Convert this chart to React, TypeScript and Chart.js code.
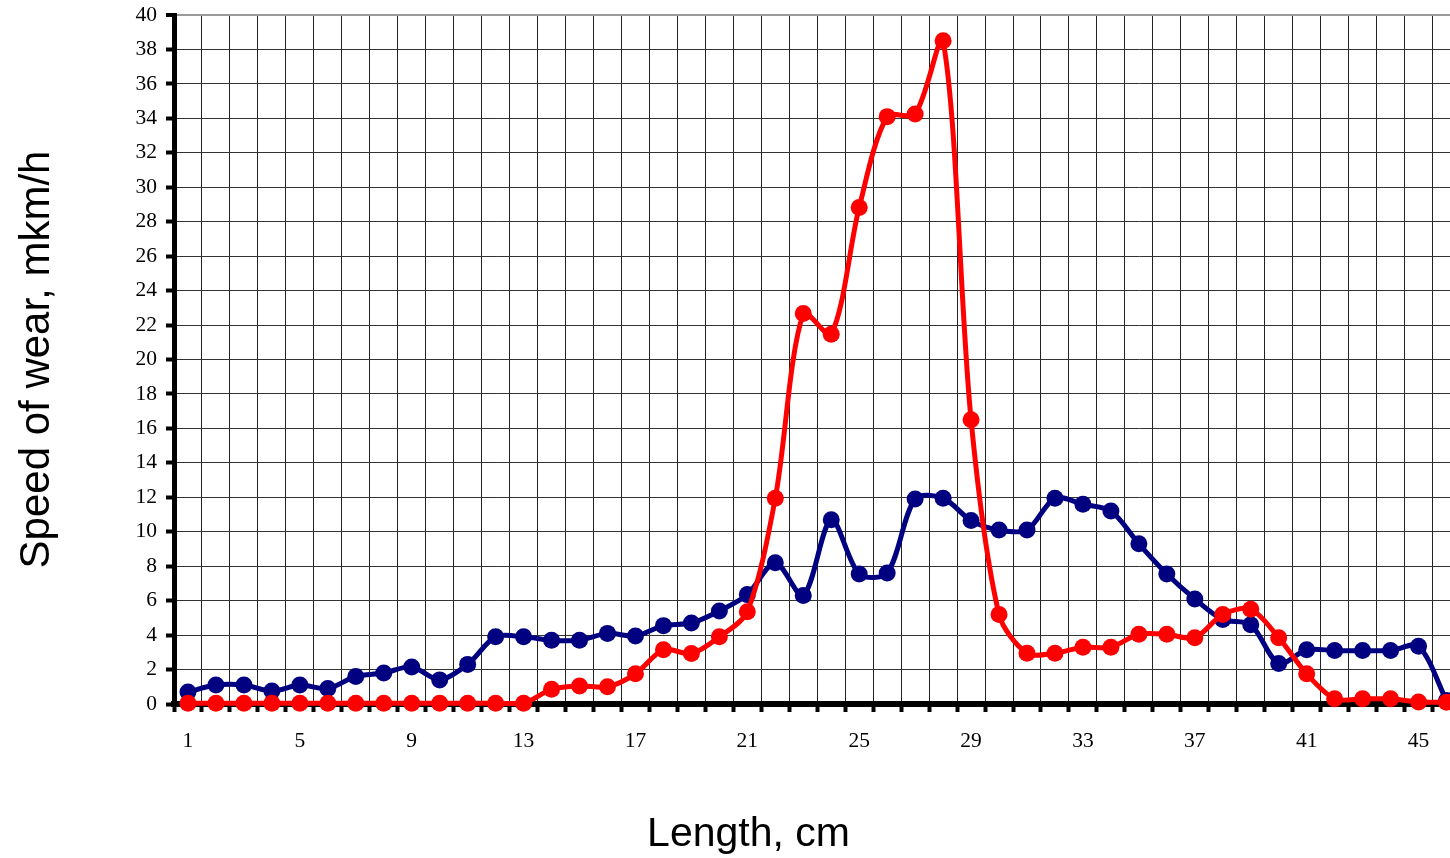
import React, { useEffect, useRef } from "react";
import { Chart, registerables } from "chart.js";

Chart.register(...registerables);

const categories = [
  "1", "2", "3", "4", "5", "6", "7", "8", "9", "10",
  "11", "12", "13", "14", "15", "16", "17", "18", "19", "20",
  "21", "22", "23", "24", "25", "26", "27", "28", "29", "30",
  "31", "32", "33", "34", "35", "36", "37", "38", "39", "40",
  "41", "42", "43", "44", "45", "46",
];

const shownXLabels = ["1", "5", "9", "13", "17", "21", "25", "29", "33", "37", "41", "45"];

const blueSeries = [
  0.7, 1.1, 1.1, 0.75, 1.1, 0.9, 1.6, 1.8, 2.15, 1.4,
  2.3, 3.9, 3.9, 3.7, 3.7, 4.1, 3.95, 4.55, 4.7, 5.4,
  6.35, 8.2, 6.3, 10.7, 7.55, 7.6, 11.9, 11.95, 10.65, 10.1,
  10.1, 11.95, 11.6, 11.2, 9.3, 7.55, 6.1, 4.9, 4.6, 2.35,
  3.15, 3.1, 3.1, 3.1, 3.35, 0.2,
];

const redSeries = [
  0.04, 0.04, 0.04, 0.04, 0.04, 0.04, 0.04, 0.04, 0.04, 0.04,
  0.04, 0.04, 0.04, 0.85, 1.05, 1.0, 1.75, 3.15, 2.93, 3.9,
  5.36, 11.95, 22.67, 21.47, 28.83, 34.1, 34.25, 38.5, 16.5, 5.2,
  2.95, 2.95, 3.3, 3.3, 4.05, 4.05, 3.85, 5.2, 5.5, 3.85,
  1.75, 0.3, 0.3, 0.3, 0.12, 0.1,
];

const yMin = 0;
const yMax = 40;
const yStep = 2;

const xAxisTitle = "Length, cm";
const yAxisTitle = "Speed of wear, mkm/h";

const serif = "'Times New Roman', 'Liberation Serif', serif";
const sans = "Arial, 'Liberation Sans', sans-serif";

export default function App() {
  const canvasRef = useRef<HTMLCanvasElement | null>(null);

  useEffect(() => {
    const canvas = canvasRef.current;
    if (!canvas) return;
    const chart = new Chart(canvas, {
      type: "line",
      data: {
        labels: categories,
        datasets: [
          {
            label: "red",
            data: redSeries,
            borderColor: "#FF0000",
            backgroundColor: "#FF0000",
            pointBackgroundColor: "#FF0000",
            pointBorderWidth: 0,
            pointRadius: 8.5,
            pointHoverRadius: 8.5,
            borderWidth: 5,
            tension: 0.3,
            clip: false as any,
          },
          {
            label: "blue",
            data: blueSeries,
            borderColor: "#000080",
            backgroundColor: "#000080",
            pointBackgroundColor: "#000080",
            pointBorderWidth: 0,
            pointRadius: 8.5,
            pointHoverRadius: 8.5,
            borderWidth: 5,
            tension: 0.3,
            clip: false as any,
          },
        ],
      },
      options: {
        responsive: false,
        animation: false,
        devicePixelRatio: 1,
        layout: { padding: { left: 28, right: 0, top: 15, bottom: 0 } },
        plugins: {
          legend: { display: false },
          tooltip: { enabled: false },
          title: {
            display: true,
            position: "bottom",
            text: xAxisTitle,
            color: "#000",
            align: "center",
            fullSize: true,
            font: { family: sans, size: 41, weight: "normal", lineHeight: 1 },
            padding: { top: 0.5, bottom: 2.5 },
          },
        },
        scales: {
          x: {
            type: "category",
            offset: true,
            grid: {
              offset: true,
              color: "#222",
              lineWidth: 1,
              drawTicks: true,
              tickLength: 8,
              tickWidth: 4,
              tickColor: "#000",
            },
            border: { display: true, color: "#000", width: 6 },
            ticks: {
              autoSkip: false,
              maxRotation: 0,
              minRotation: 0,
              padding: 16,
              color: "#000",
              font: { family: serif, size: 21.5 },
              callback: (_v: any, i: number) =>
                shownXLabels.includes(categories[i]) ? categories[i] : "",
            },
            afterFit: (s: any) => {
              s.height = 110;
              s.paddingLeft = 0;
              s.paddingRight = 0;
            },
          },
          y: {
            min: yMin,
            max: yMax,
            grid: {
              color: (ctx: any) => (ctx.tick && ctx.tick.value === yMax ? "#9a9a9a" : "#333"),
              lineWidth: (ctx: any) => (ctx.tick && ctx.tick.value === yMax ? 2 : 1),
              drawTicks: true,
              tickLength: 8,
              tickWidth: 4,
              tickColor: "#000",
            },
            border: { display: true, color: "#000", width: 5 },
            ticks: {
              stepSize: yStep,
              padding: 9,
              color: "#000",
              font: { family: serif, size: 21.5 },
            },
            title: {
              display: true,
              text: yAxisTitle,
              color: "#000",
              font: { family: sans, size: 42, weight: "normal", lineHeight: 0.05 },
              padding: { top: 8, bottom: 0 },
            },
            afterFit: (s: any) => {
              s.width = 146;
              s.paddingTop = 0;
              s.paddingBottom = 0;
            },
          },
        },
      },
    });
    return () => chart.destroy();
  }, []);

  return (
    <div
      style={{
        position: "fixed",
        left: 0,
        top: 0,
        width: 1450,
        height: 858,
        overflow: "hidden",
        background: "#fff",
      }}
    >
      <canvas
        ref={canvasRef}
        width={1469}
        height={858}
        style={{ display: "block", width: 1469, height: 858 }}
      />
    </div>
  );
}
